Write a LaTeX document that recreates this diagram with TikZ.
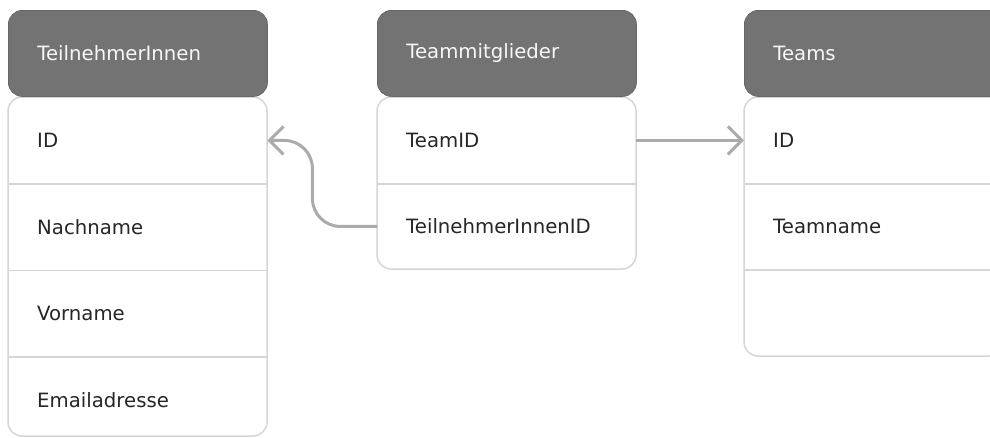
\documentclass[tikz,border=0pt]{standalone}
\usepackage{fontspec}
\setmainfont{DejaVu Sans}
\usetikzlibrary{arrows.meta}
\definecolor{headfill}{HTML}{737373}
\definecolor{headline}{HTML}{666666}
\definecolor{headtext}{HTML}{F7F7F7}
\definecolor{bodyline}{HTML}{D6D6D6}
\definecolor{bodytext}{HTML}{262626}
\definecolor{linkgray}{HTML}{ABABAB}
\tikzset{
  header/.style={rectangle, rounded corners=14pt, fill=headfill, draw=headline,
    line width=0.8pt, anchor=north west, minimum width=259pt, minimum height=86pt,
    inner xsep=29pt, text width=201pt, align=left, text=headtext,
    font=\fontsize{19.7pt}{23pt}\selectfont},
  body/.style={draw=bodyline, line width=1.5pt, fill=white, rounded corners=14pt},
  field/.style={rectangle, anchor=north west, minimum width=259pt, minimum height=86.5pt,
    inner xsep=29pt, inner ysep=0pt, text width=201pt, align=left, text=bodytext,
    font=\fontsize{19.7pt}{23pt}\selectfont},
  divider/.style={draw=bodyline, line width=1.5pt},
  link/.style={draw=linkgray, line width=3pt, rounded corners=28pt,
    -{Straight Barb[length=14pt,width=28pt,line width=3pt]}}
}
\begin{document}
\begin{tikzpicture}[x=1pt,y=-1pt]
\useasboundingbox (0,0) rectangle (990,437);
\clip (0,0) rectangle (990,437);
\fill[white] (0,0) rectangle (990,437);

% TeilnehmerInnen table
\draw[body] (8,97) rectangle (267,436);
\node[header] (h1) at (8,10) {TeilnehmerInnen};
\node[field] (a1) at (8,97) {ID};
\node[field] (a2) at (8,183.5) {Nachname};
\node[field] (a3) at (8,270) {Vorname};
\node[field] (a4) at (8,356.5) {Emailadresse};
\draw[divider] (a1.south west) -- (a1.south east);
\draw[divider] (a2.south west) -- (a2.south east);
\draw[divider] (a3.south west) -- (a3.south east);

% Teammitglieder table
\draw[body] (377,97) rectangle (636,269);
\node[header] (h2) at (377,10) {Teammitglieder};
\node[field] (b1) at (377,97) {TeamID};
\node[field] (b2) at (377,183) {TeilnehmerInnenID};
\draw[divider] (b1.south west) -- (b1.south east);

% Teams table
\draw[body] (744,97) rectangle (1003,356);
\node[header] (h3) at (744,10) {Teams};
\node[field] (c1) at (744,97) {ID};
\node[field] (c2) at (744,183) {Teamname};
\node[field] (c3) at (744,269.5) {};
\draw[divider] (c1.south west) -- (c1.south east);
\draw[divider] (c2.south west) -- (c2.south east);

% foreign-key links
\draw[link] (b2.west) -- ([xshift=45pt]a1.east |- b2.west)
  -- ([xshift=45pt]a1.east) -- (a1.east);
\draw[link] (b1.east) -- (c1.west);
\end{tikzpicture}
\end{document}
